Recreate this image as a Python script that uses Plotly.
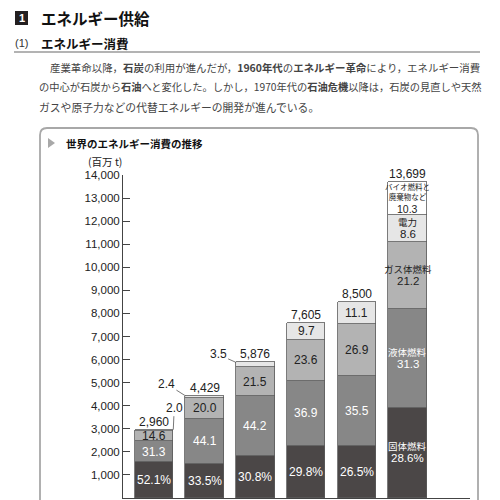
import plotly.graph_objects as go

# ---------------- data ----------------
categories = ["1", "2", "3", "4", "5", "6"]          # x labels are cut off in the reference
totals = [2960, 4429, 5876, 7605, 8500, 13699]      # 百万 t
solid = [52.1, 33.5, 30.8, 29.8, 26.5, 28.6]        # 固体燃料 %
liquid = [31.3, 44.1, 44.2, 36.9, 35.5, 31.3]       # 液体燃料 %
gas = [14.6, 20.0, 21.5, 23.6, 26.9, 21.2]          # ガス体燃料 %
electric = [2.0, 2.4, 3.5, 9.7, 11.1, 8.6]          # 電力 %
bio = [None, None, None, None, None, 10.3]          # バイオ燃料と廃棄物など %
series_names = ["固体燃料", "液体燃料", "ガス体燃料", "電力", "バイオ燃料と<br>廃棄物など"]
y_ticks = list(range(0, 14001, 1000))

# ---------------- styles ----------------
LAT = "Liberation Sans, Arial, Noto Sans CJK JP"
JP = "Noto Sans CJK JP, Liberation Sans"
fills = ["#4b4747", "#878787", "#b3b3b3", "#e6e6e6", "#ffffff"]
txtcol = ["#ffffff", "#ffffff", "#222222", "#222222", "#222222"]
W = H = 500


def px(x):
    return x / W


def py(y):
    return 1 - y / H


xs = list(range(len(categories)))
series = [solid, liquid, gas, electric, bio]

fig = go.Figure()
for s, col, nm in zip(series, fills, series_names):
    vals = [None if p is None else t * p / 100 for t, p in zip(totals, s)]
    fig.add_trace(go.Bar(
        x=xs, y=vals, width=0.76, name=nm.replace("<br>", ""),
        marker=dict(color=col, line=dict(color="#5a5a5a", width=0.8)),
        hoverinfo="skip", showlegend=False,
    ))

ann = []
last = len(totals) - 1
for i, t in enumerate(totals):
    cum = 0.0
    for k, s in enumerate(series):
        p = s[i]
        if p is None:
            continue
        mid = t * (cum + p / 2) / 100
        cum += p
        val = f"{p:.1f}" + ("%" if k == 0 else "")
        if k == 3 and i < 3:
            continue
        if i == last:
            if "<br>" in series_names[k]:
                nshift, vshift, fs, vfs = 7, -10.5, 7.5, 10.5
            else:
                nshift, vshift, fs, vfs = 6.5, -5.5, 9.5, 11.5
            ann.append(dict(x=i, y=mid, xref="x", yref="y", text=series_names[k], showarrow=False,
                            yanchor="middle", yshift=nshift,
                            font=dict(family=JP, size=fs, color=txtcol[k])))
            ann.append(dict(x=i, y=mid, xref="x", yref="y", text=val, showarrow=False,
                            yanchor="middle", yshift=vshift,
                            font=dict(family=LAT, size=vfs, color=txtcol[k])))
        else:
            ann.append(dict(x=i, y=mid, xref="x", yref="y", text=val, showarrow=False,
                            yanchor="middle", font=dict(family=LAT, size=12, color=txtcol[k])))
    ann.append(dict(x=i, y=t, xref="x", yref="y", text=f"{t:,}", showarrow=False,
                    yanchor="bottom", yshift=-1, font=dict(family=LAT, size=12, color="#222")))

# small electricity labels with leader lines (first three bars)
offsets = [(0.38, 1, -22), (-0.38, -19, -12), (-0.38, -18, -8)]
for i, (dx, ax, ay) in enumerate(offsets):
    ann.append(dict(x=xs[i] + dx, y=totals[i], xref="x", yref="y", text=f"{electric[i]:.1f}",
                    showarrow=True, arrowhead=0, arrowwidth=0.8, arrowcolor="#555",
                    ax=ax, ay=ay, standoff=0, font=dict(family=LAT, size=12, color="#222")))


def txt(x, y, text, size, family=JP, color="#222", xanchor="left"):
    return dict(x=px(x), y=py(y), xref="paper", yref="paper", text=text, showarrow=False,
                xanchor=xanchor, yanchor="middle", font=dict(family=family, size=size, color=color))


# page text
ann += [
    txt(21.5, 18, "<b>1</b>", 11, LAT, "white", "center"),
    txt(39, 18, "<b>エネルギー供給</b>", 15.5, JP, "#111"),
    txt(13, 43.5, "(1)", 11, LAT, "#333"),
    txt(39, 43.5, "<b>エネルギー消費</b>", 12.5, JP, "#111"),
    txt(48, 67, "産業革命以降，<b>石炭</b>の利用が進んだが，<b>1960年代</b>の<b>エネルギー革命</b>により，エネルギー消費",
        10.45, JP, "#444"),
    txt(37, 87, "の中心が石炭から<b>石油</b>へと変化した。しかし，1970年代の<b>石油危機</b>以降は，石炭の見直しや天然",
        10.25, JP, "#444"),
    txt(37, 107, "ガスや原子力などの代替エネルギーの開発が進んでいる。", 10.8, JP, "#444"),
    txt(64, 143, "<b>世界のエネルギー消費の推移</b>", 10.5, JP, "#111"),
    txt(105, 161, "(百万 t)", 10.5, JP, "#222", "center"),
]


def P(x, y):
    return f"{px(x):.4f},{py(y):.4f}"


box_path = ("M " + P(40, 520) + " L " + P(40, 135) + " Q " + P(40, 128) + " " + P(47, 128) +
            " L " + P(471, 128) + " Q " + P(478, 128) + " " + P(478, 135) + " L " + P(478, 520))
shapes = [
    dict(type="rect", xref="paper", yref="paper", x0=px(15), x1=px(28), y0=py(25), y1=py(11),
         fillcolor="#231f20", line=dict(width=0)),
    dict(type="line", xref="paper", yref="paper", x0=px(14), x1=px(480), y0=py(52), y1=py(52),
         line=dict(color="#9a9a9a", width=1.5)),
    dict(type="path", xref="paper", yref="paper", path=box_path,
         line=dict(color="#a8a8a8", width=1.8), fillcolor="rgba(0,0,0,0)"),
    dict(type="path", xref="paper", yref="paper",
         path="M " + P(48, 138) + " L " + P(55, 143) + " L " + P(48, 148) + " Z",
         fillcolor="#a8a8a8", line=dict(width=0)),
]

fig.update_layout(
    template="none",
    width=W, height=H, autosize=False,
    margin=dict(l=0, r=0, t=0, b=0, pad=0, autoexpand=False),
    paper_bgcolor="white", plot_bgcolor="white",
    barmode="stack", bargap=0,
    font=dict(family=LAT, color="#222"),
    annotations=ann, shapes=shapes,
    xaxis=dict(domain=[px(123), px(470)], range=[-31 / 50.7, -31 / 50.7 + 347 / 50.7],
               tickvals=xs, ticktext=categories, showticklabels=False, ticks="",
               automargin=False,
               showgrid=False, zeroline=False, showline=True, linecolor="#444", linewidth=1),
    yaxis=dict(domain=[py(498), py(175)], range=[0, 14000], automargin=False,
               tickvals=y_ticks, ticktext=[f"{v:,}" for v in y_ticks],
               ticks="inside", ticklen=7, tickcolor="#444", tickwidth=1,
               showline=True, linecolor="#444", linewidth=1,
               showgrid=False, zeroline=False,
               tickfont=dict(family=LAT, size=11.5, color="#222")),
)

fig.write_html("out.html", config={"displayModeBar": False},
               post_script="document.body.style.margin='0';")
